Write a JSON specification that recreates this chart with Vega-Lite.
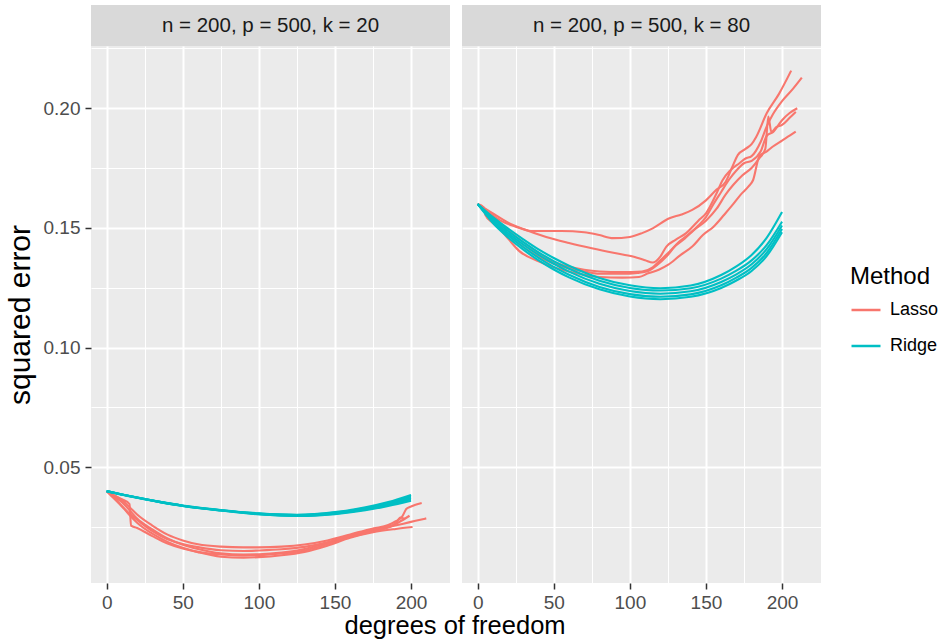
{
"$schema": "https://vega.github.io/schema/vega-lite/v6.json",
"data": {"values": [
{"p":1,"m":"Lasso","r":1,"x":0,"y":0.0400},{"p":1,"m":"Lasso","r":1,"x":5,"y":0.0370},{"p":1,"m":"Lasso","r":1,"x":10,"y":0.0338},{"p":1,"m":"Lasso","r":1,"x":15,"y":0.0300},{"p":1,"m":"Lasso","r":1,"x":20,"y":0.0268},{"p":1,"m":"Lasso","r":1,"x":30,"y":0.0222},{"p":1,"m":"Lasso","r":1,"x":40,"y":0.0188},{"p":1,"m":"Lasso","r":1,"x":50,"y":0.0163},{"p":1,"m":"Lasso","r":1,"x":60,"y":0.0145},{"p":1,"m":"Lasso","r":1,"x":75,"y":0.0126},{"p":1,"m":"Lasso","r":1,"x":90,"y":0.0122},{"p":1,"m":"Lasso","r":1,"x":100,"y":0.0124},{"p":1,"m":"Lasso","r":1,"x":115,"y":0.0132},{"p":1,"m":"Lasso","r":1,"x":130,"y":0.0146},{"p":1,"m":"Lasso","r":1,"x":145,"y":0.0172},{"p":1,"m":"Lasso","r":1,"x":160,"y":0.0205},{"p":1,"m":"Lasso","r":1,"x":175,"y":0.0228},{"p":1,"m":"Lasso","r":1,"x":190,"y":0.0242},{"p":1,"m":"Lasso","r":1,"x":201,"y":0.0250},
{"p":1,"m":"Lasso","r":2,"x":0,"y":0.0400},{"p":1,"m":"Lasso","r":2,"x":5,"y":0.0376},{"p":1,"m":"Lasso","r":2,"x":10,"y":0.0354},{"p":1,"m":"Lasso","r":2,"x":15,"y":0.0320},{"p":1,"m":"Lasso","r":2,"x":20,"y":0.0285},{"p":1,"m":"Lasso","r":2,"x":30,"y":0.0240},{"p":1,"m":"Lasso","r":2,"x":40,"y":0.0202},{"p":1,"m":"Lasso","r":2,"x":50,"y":0.0176},{"p":1,"m":"Lasso","r":2,"x":60,"y":0.0158},{"p":1,"m":"Lasso","r":2,"x":75,"y":0.0140},{"p":1,"m":"Lasso","r":2,"x":90,"y":0.0135},{"p":1,"m":"Lasso","r":2,"x":100,"y":0.0136},{"p":1,"m":"Lasso","r":2,"x":115,"y":0.0143},{"p":1,"m":"Lasso","r":2,"x":130,"y":0.0158},{"p":1,"m":"Lasso","r":2,"x":145,"y":0.0184},{"p":1,"m":"Lasso","r":2,"x":160,"y":0.0212},{"p":1,"m":"Lasso","r":2,"x":175,"y":0.0236},{"p":1,"m":"Lasso","r":2,"x":185,"y":0.0250},{"p":1,"m":"Lasso","r":2,"x":195,"y":0.0264},{"p":1,"m":"Lasso","r":2,"x":203,"y":0.0276},{"p":1,"m":"Lasso","r":2,"x":210,"y":0.0286},
{"p":1,"m":"Lasso","r":3,"x":0,"y":0.0400},{"p":1,"m":"Lasso","r":3,"x":5,"y":0.0382},{"p":1,"m":"Lasso","r":3,"x":10,"y":0.0362},{"p":1,"m":"Lasso","r":3,"x":15,"y":0.0333},{"p":1,"m":"Lasso","r":3,"x":20,"y":0.0302},{"p":1,"m":"Lasso","r":3,"x":30,"y":0.0256},{"p":1,"m":"Lasso","r":3,"x":40,"y":0.0218},{"p":1,"m":"Lasso","r":3,"x":50,"y":0.0194},{"p":1,"m":"Lasso","r":3,"x":60,"y":0.0178},{"p":1,"m":"Lasso","r":3,"x":75,"y":0.0168},{"p":1,"m":"Lasso","r":3,"x":90,"y":0.0165},{"p":1,"m":"Lasso","r":3,"x":100,"y":0.0165},{"p":1,"m":"Lasso","r":3,"x":115,"y":0.0168},{"p":1,"m":"Lasso","r":3,"x":130,"y":0.0177},{"p":1,"m":"Lasso","r":3,"x":145,"y":0.0194},{"p":1,"m":"Lasso","r":3,"x":160,"y":0.0219},{"p":1,"m":"Lasso","r":3,"x":175,"y":0.0244},{"p":1,"m":"Lasso","r":3,"x":185,"y":0.0258},{"p":1,"m":"Lasso","r":3,"x":190,"y":0.0274},{"p":1,"m":"Lasso","r":3,"x":194,"y":0.0292},{"p":1,"m":"Lasso","r":3,"x":197,"y":0.0326},{"p":1,"m":"Lasso","r":3,"x":200,"y":0.0336},{"p":1,"m":"Lasso","r":3,"x":207,"y":0.0350},
{"p":1,"m":"Lasso","r":4,"x":0,"y":0.0400},{"p":1,"m":"Lasso","r":4,"x":5,"y":0.0382},{"p":1,"m":"Lasso","r":4,"x":10,"y":0.0366},{"p":1,"m":"Lasso","r":4,"x":15,"y":0.0346},{"p":1,"m":"Lasso","r":4,"x":16,"y":0.0256},{"p":1,"m":"Lasso","r":4,"x":20,"y":0.0246},{"p":1,"m":"Lasso","r":4,"x":30,"y":0.0212},{"p":1,"m":"Lasso","r":4,"x":40,"y":0.0181},{"p":1,"m":"Lasso","r":4,"x":50,"y":0.0160},{"p":1,"m":"Lasso","r":4,"x":60,"y":0.0146},{"p":1,"m":"Lasso","r":4,"x":75,"y":0.0135},{"p":1,"m":"Lasso","r":4,"x":90,"y":0.0131},{"p":1,"m":"Lasso","r":4,"x":100,"y":0.0132},{"p":1,"m":"Lasso","r":4,"x":115,"y":0.0139},{"p":1,"m":"Lasso","r":4,"x":130,"y":0.0152},{"p":1,"m":"Lasso","r":4,"x":145,"y":0.0178},{"p":1,"m":"Lasso","r":4,"x":160,"y":0.0208},{"p":1,"m":"Lasso","r":4,"x":175,"y":0.0232},{"p":1,"m":"Lasso","r":4,"x":185,"y":0.0248},{"p":1,"m":"Lasso","r":4,"x":192,"y":0.0270},{"p":1,"m":"Lasso","r":4,"x":199,"y":0.0297},
{"p":1,"m":"Lasso","r":5,"x":0,"y":0.0400},{"p":1,"m":"Lasso","r":5,"x":5,"y":0.0368},{"p":1,"m":"Lasso","r":5,"x":10,"y":0.0336},{"p":1,"m":"Lasso","r":5,"x":15,"y":0.0306},{"p":1,"m":"Lasso","r":5,"x":20,"y":0.0280},{"p":1,"m":"Lasso","r":5,"x":30,"y":0.0233},{"p":1,"m":"Lasso","r":5,"x":40,"y":0.0199},{"p":1,"m":"Lasso","r":5,"x":50,"y":0.0179},{"p":1,"m":"Lasso","r":5,"x":60,"y":0.0166},{"p":1,"m":"Lasso","r":5,"x":75,"y":0.0153},{"p":1,"m":"Lasso","r":5,"x":90,"y":0.0150},{"p":1,"m":"Lasso","r":5,"x":100,"y":0.0152},{"p":1,"m":"Lasso","r":5,"x":115,"y":0.0157},{"p":1,"m":"Lasso","r":5,"x":130,"y":0.0167},{"p":1,"m":"Lasso","r":5,"x":145,"y":0.0186},{"p":1,"m":"Lasso","r":5,"x":160,"y":0.0214},{"p":1,"m":"Lasso","r":5,"x":175,"y":0.0240},{"p":1,"m":"Lasso","r":5,"x":185,"y":0.0252},{"p":1,"m":"Lasso","r":5,"x":190,"y":0.0266},{"p":1,"m":"Lasso","r":5,"x":193,"y":0.0290},{"p":1,"m":"Lasso","r":5,"x":196,"y":0.0284},
{"p":1,"m":"Ridge","r":1,"x":0,"y":0.0400},{"p":1,"m":"Ridge","r":1,"x":10,"y":0.0386},{"p":1,"m":"Ridge","r":1,"x":20,"y":0.0373},{"p":1,"m":"Ridge","r":1,"x":35,"y":0.0355},{"p":1,"m":"Ridge","r":1,"x":50,"y":0.0340},{"p":1,"m":"Ridge","r":1,"x":75,"y":0.0321},{"p":1,"m":"Ridge","r":1,"x":100,"y":0.0307},{"p":1,"m":"Ridge","r":1,"x":125,"y":0.0301},{"p":1,"m":"Ridge","r":1,"x":150,"y":0.0312},{"p":1,"m":"Ridge","r":1,"x":170,"y":0.0332},{"p":1,"m":"Ridge","r":1,"x":185,"y":0.0354},{"p":1,"m":"Ridge","r":1,"x":200,"y":0.0384},
{"p":1,"m":"Ridge","r":2,"x":0,"y":0.0400},{"p":1,"m":"Ridge","r":2,"x":10,"y":0.0386},{"p":1,"m":"Ridge","r":2,"x":20,"y":0.0373},{"p":1,"m":"Ridge","r":2,"x":35,"y":0.0355},{"p":1,"m":"Ridge","r":2,"x":50,"y":0.0339},{"p":1,"m":"Ridge","r":2,"x":75,"y":0.0320},{"p":1,"m":"Ridge","r":2,"x":100,"y":0.0306},{"p":1,"m":"Ridge","r":2,"x":125,"y":0.0300},{"p":1,"m":"Ridge","r":2,"x":150,"y":0.0310},{"p":1,"m":"Ridge","r":2,"x":170,"y":0.0329},{"p":1,"m":"Ridge","r":2,"x":185,"y":0.0350},{"p":1,"m":"Ridge","r":2,"x":200,"y":0.0378},
{"p":1,"m":"Ridge","r":3,"x":0,"y":0.0400},{"p":1,"m":"Ridge","r":3,"x":10,"y":0.0386},{"p":1,"m":"Ridge","r":3,"x":20,"y":0.0373},{"p":1,"m":"Ridge","r":3,"x":35,"y":0.0355},{"p":1,"m":"Ridge","r":3,"x":50,"y":0.0339},{"p":1,"m":"Ridge","r":3,"x":75,"y":0.0320},{"p":1,"m":"Ridge","r":3,"x":100,"y":0.0305},{"p":1,"m":"Ridge","r":3,"x":125,"y":0.0298},{"p":1,"m":"Ridge","r":3,"x":150,"y":0.0308},{"p":1,"m":"Ridge","r":3,"x":170,"y":0.0326},{"p":1,"m":"Ridge","r":3,"x":185,"y":0.0346},{"p":1,"m":"Ridge","r":3,"x":200,"y":0.0372},
{"p":1,"m":"Ridge","r":4,"x":0,"y":0.0400},{"p":1,"m":"Ridge","r":4,"x":10,"y":0.0386},{"p":1,"m":"Ridge","r":4,"x":20,"y":0.0372},{"p":1,"m":"Ridge","r":4,"x":35,"y":0.0354},{"p":1,"m":"Ridge","r":4,"x":50,"y":0.0338},{"p":1,"m":"Ridge","r":4,"x":75,"y":0.0319},{"p":1,"m":"Ridge","r":4,"x":100,"y":0.0304},{"p":1,"m":"Ridge","r":4,"x":125,"y":0.0297},{"p":1,"m":"Ridge","r":4,"x":150,"y":0.0306},{"p":1,"m":"Ridge","r":4,"x":170,"y":0.0323},{"p":1,"m":"Ridge","r":4,"x":185,"y":0.0342},{"p":1,"m":"Ridge","r":4,"x":200,"y":0.0366},
{"p":1,"m":"Ridge","r":5,"x":0,"y":0.0400},{"p":1,"m":"Ridge","r":5,"x":10,"y":0.0385},{"p":1,"m":"Ridge","r":5,"x":20,"y":0.0372},{"p":1,"m":"Ridge","r":5,"x":35,"y":0.0354},{"p":1,"m":"Ridge","r":5,"x":50,"y":0.0338},{"p":1,"m":"Ridge","r":5,"x":75,"y":0.0319},{"p":1,"m":"Ridge","r":5,"x":100,"y":0.0303},{"p":1,"m":"Ridge","r":5,"x":125,"y":0.0296},{"p":1,"m":"Ridge","r":5,"x":150,"y":0.0304},{"p":1,"m":"Ridge","r":5,"x":170,"y":0.0320},{"p":1,"m":"Ridge","r":5,"x":185,"y":0.0338},{"p":1,"m":"Ridge","r":5,"x":200,"y":0.0360},
{"p":2,"m":"Lasso","r":1,"x":0,"y":0.1600},{"p":2,"m":"Lasso","r":1,"x":8,"y":0.1560},{"p":2,"m":"Lasso","r":1,"x":15,"y":0.1530},{"p":2,"m":"Lasso","r":1,"x":25,"y":0.1505},{"p":2,"m":"Lasso","r":1,"x":35,"y":0.1487},{"p":2,"m":"Lasso","r":1,"x":55,"y":0.1487},{"p":2,"m":"Lasso","r":1,"x":70,"y":0.1482},{"p":2,"m":"Lasso","r":1,"x":80,"y":0.1470},{"p":2,"m":"Lasso","r":1,"x":89,"y":0.1457},{"p":2,"m":"Lasso","r":1,"x":100,"y":0.1462},{"p":2,"m":"Lasso","r":1,"x":108,"y":0.1478},{"p":2,"m":"Lasso","r":1,"x":115,"y":0.1498},{"p":2,"m":"Lasso","r":1,"x":126,"y":0.1540},{"p":2,"m":"Lasso","r":1,"x":134,"y":0.1556},{"p":2,"m":"Lasso","r":1,"x":141,"y":0.1575},{"p":2,"m":"Lasso","r":1,"x":150,"y":0.1615},{"p":2,"m":"Lasso","r":1,"x":157,"y":0.1660},{"p":2,"m":"Lasso","r":1,"x":163,"y":0.1693},{"p":2,"m":"Lasso","r":1,"x":167,"y":0.1750},{"p":2,"m":"Lasso","r":1,"x":171,"y":0.1805},{"p":2,"m":"Lasso","r":1,"x":176,"y":0.1830},{"p":2,"m":"Lasso","r":1,"x":180,"y":0.1850},{"p":2,"m":"Lasso","r":1,"x":183,"y":0.1880},{"p":2,"m":"Lasso","r":1,"x":190,"y":0.1980},{"p":2,"m":"Lasso","r":1,"x":198,"y":0.2060},{"p":2,"m":"Lasso","r":1,"x":206,"y":0.2157},
{"p":2,"m":"Lasso","r":2,"x":0,"y":0.1600},{"p":2,"m":"Lasso","r":2,"x":10,"y":0.1560},{"p":2,"m":"Lasso","r":2,"x":20,"y":0.1522},{"p":2,"m":"Lasso","r":2,"x":30,"y":0.1495},{"p":2,"m":"Lasso","r":2,"x":45,"y":0.1462},{"p":2,"m":"Lasso","r":2,"x":60,"y":0.1437},{"p":2,"m":"Lasso","r":2,"x":75,"y":0.1415},{"p":2,"m":"Lasso","r":2,"x":90,"y":0.1395},{"p":2,"m":"Lasso","r":2,"x":102,"y":0.1380},{"p":2,"m":"Lasso","r":2,"x":110,"y":0.1365},{"p":2,"m":"Lasso","r":2,"x":115,"y":0.1355},{"p":2,"m":"Lasso","r":2,"x":120,"y":0.1380},{"p":2,"m":"Lasso","r":2,"x":124,"y":0.1422},{"p":2,"m":"Lasso","r":2,"x":130,"y":0.1450},{"p":2,"m":"Lasso","r":2,"x":137,"y":0.1478},{"p":2,"m":"Lasso","r":2,"x":145,"y":0.1530},{"p":2,"m":"Lasso","r":2,"x":150,"y":0.1561},{"p":2,"m":"Lasso","r":2,"x":157,"y":0.1645},{"p":2,"m":"Lasso","r":2,"x":161,"y":0.1700},{"p":2,"m":"Lasso","r":2,"x":166,"y":0.1740},{"p":2,"m":"Lasso","r":2,"x":172,"y":0.1770},{"p":2,"m":"Lasso","r":2,"x":176,"y":0.1790},{"p":2,"m":"Lasso","r":2,"x":180,"y":0.1800},{"p":2,"m":"Lasso","r":2,"x":186,"y":0.1860},{"p":2,"m":"Lasso","r":2,"x":190,"y":0.1925},{"p":2,"m":"Lasso","r":2,"x":194,"y":0.1975},{"p":2,"m":"Lasso","r":2,"x":200,"y":0.2030},{"p":2,"m":"Lasso","r":2,"x":207,"y":0.2080},{"p":2,"m":"Lasso","r":2,"x":213,"y":0.2128},
{"p":2,"m":"Lasso","r":3,"x":0,"y":0.1600},{"p":2,"m":"Lasso","r":3,"x":5,"y":0.1565},{"p":2,"m":"Lasso","r":3,"x":10,"y":0.1530},{"p":2,"m":"Lasso","r":3,"x":20,"y":0.1455},{"p":2,"m":"Lasso","r":3,"x":27,"y":0.1405},{"p":2,"m":"Lasso","r":3,"x":40,"y":0.1360},{"p":2,"m":"Lasso","r":3,"x":50,"y":0.1335},{"p":2,"m":"Lasso","r":3,"x":65,"y":0.1310},{"p":2,"m":"Lasso","r":3,"x":80,"y":0.1295},{"p":2,"m":"Lasso","r":3,"x":95,"y":0.1292},{"p":2,"m":"Lasso","r":3,"x":106,"y":0.1295},{"p":2,"m":"Lasso","r":3,"x":112,"y":0.1310},{"p":2,"m":"Lasso","r":3,"x":119,"y":0.1325},{"p":2,"m":"Lasso","r":3,"x":125,"y":0.1345},{"p":2,"m":"Lasso","r":3,"x":133,"y":0.1385},{"p":2,"m":"Lasso","r":3,"x":141,"y":0.1422},{"p":2,"m":"Lasso","r":3,"x":148,"y":0.1470},{"p":2,"m":"Lasso","r":3,"x":155,"y":0.1505},{"p":2,"m":"Lasso","r":3,"x":162,"y":0.1555},{"p":2,"m":"Lasso","r":3,"x":168,"y":0.1600},{"p":2,"m":"Lasso","r":3,"x":173,"y":0.1640},{"p":2,"m":"Lasso","r":3,"x":178,"y":0.1673},{"p":2,"m":"Lasso","r":3,"x":181,"y":0.1700},{"p":2,"m":"Lasso","r":3,"x":185,"y":0.1798},{"p":2,"m":"Lasso","r":3,"x":190,"y":0.1820},{"p":2,"m":"Lasso","r":3,"x":194,"y":0.1840},{"p":2,"m":"Lasso","r":3,"x":200,"y":0.1865},{"p":2,"m":"Lasso","r":3,"x":205,"y":0.1885},{"p":2,"m":"Lasso","r":3,"x":209,"y":0.1902},
{"p":2,"m":"Lasso","r":4,"x":0,"y":0.1600},{"p":2,"m":"Lasso","r":4,"x":5,"y":0.1575},{"p":2,"m":"Lasso","r":4,"x":10,"y":0.1545},{"p":2,"m":"Lasso","r":4,"x":20,"y":0.1490},{"p":2,"m":"Lasso","r":4,"x":30,"y":0.1440},{"p":2,"m":"Lasso","r":4,"x":40,"y":0.1395},{"p":2,"m":"Lasso","r":4,"x":50,"y":0.1358},{"p":2,"m":"Lasso","r":4,"x":60,"y":0.1338},{"p":2,"m":"Lasso","r":4,"x":70,"y":0.1325},{"p":2,"m":"Lasso","r":4,"x":80,"y":0.1318},{"p":2,"m":"Lasso","r":4,"x":95,"y":0.1315},{"p":2,"m":"Lasso","r":4,"x":108,"y":0.1318},{"p":2,"m":"Lasso","r":4,"x":115,"y":0.1335},{"p":2,"m":"Lasso","r":4,"x":120,"y":0.1365},{"p":2,"m":"Lasso","r":4,"x":126,"y":0.1400},{"p":2,"m":"Lasso","r":4,"x":132,"y":0.1440},{"p":2,"m":"Lasso","r":4,"x":138,"y":0.1470},{"p":2,"m":"Lasso","r":4,"x":145,"y":0.1510},{"p":2,"m":"Lasso","r":4,"x":150,"y":0.1545},{"p":2,"m":"Lasso","r":4,"x":155,"y":0.1600},{"p":2,"m":"Lasso","r":4,"x":160,"y":0.1650},{"p":2,"m":"Lasso","r":4,"x":165,"y":0.1700},{"p":2,"m":"Lasso","r":4,"x":170,"y":0.1740},{"p":2,"m":"Lasso","r":4,"x":175,"y":0.1770},{"p":2,"m":"Lasso","r":4,"x":180,"y":0.1780},{"p":2,"m":"Lasso","r":4,"x":186,"y":0.1820},{"p":2,"m":"Lasso","r":4,"x":190,"y":0.1885},{"p":2,"m":"Lasso","r":4,"x":194,"y":0.1900},{"p":2,"m":"Lasso","r":4,"x":200,"y":0.1950},{"p":2,"m":"Lasso","r":4,"x":205,"y":0.1980},{"p":2,"m":"Lasso","r":4,"x":210,"y":0.2000},
{"p":2,"m":"Lasso","r":5,"x":0,"y":0.1600},{"p":2,"m":"Lasso","r":5,"x":4,"y":0.1585},{"p":2,"m":"Lasso","r":5,"x":5,"y":0.1555},{"p":2,"m":"Lasso","r":5,"x":10,"y":0.1520},{"p":2,"m":"Lasso","r":5,"x":20,"y":0.1470},{"p":2,"m":"Lasso","r":5,"x":30,"y":0.1420},{"p":2,"m":"Lasso","r":5,"x":40,"y":0.1380},{"p":2,"m":"Lasso","r":5,"x":50,"y":0.1350},{"p":2,"m":"Lasso","r":5,"x":60,"y":0.1330},{"p":2,"m":"Lasso","r":5,"x":70,"y":0.1318},{"p":2,"m":"Lasso","r":5,"x":80,"y":0.1308},{"p":2,"m":"Lasso","r":5,"x":95,"y":0.1308},{"p":2,"m":"Lasso","r":5,"x":105,"y":0.1312},{"p":2,"m":"Lasso","r":5,"x":112,"y":0.1320},{"p":2,"m":"Lasso","r":5,"x":118,"y":0.1345},{"p":2,"m":"Lasso","r":5,"x":124,"y":0.1380},{"p":2,"m":"Lasso","r":5,"x":130,"y":0.1425},{"p":2,"m":"Lasso","r":5,"x":136,"y":0.1455},{"p":2,"m":"Lasso","r":5,"x":142,"y":0.1490},{"p":2,"m":"Lasso","r":5,"x":150,"y":0.1530},{"p":2,"m":"Lasso","r":5,"x":157,"y":0.1580},{"p":2,"m":"Lasso","r":5,"x":163,"y":0.1640},{"p":2,"m":"Lasso","r":5,"x":168,"y":0.1680},{"p":2,"m":"Lasso","r":5,"x":174,"y":0.1720},{"p":2,"m":"Lasso","r":5,"x":180,"y":0.1750},{"p":2,"m":"Lasso","r":5,"x":185,"y":0.1790},{"p":2,"m":"Lasso","r":5,"x":189,"y":0.1830},{"p":2,"m":"Lasso","r":5,"x":191,"y":0.1965},{"p":2,"m":"Lasso","r":5,"x":193,"y":0.1900},{"p":2,"m":"Lasso","r":5,"x":196,"y":0.1920},{"p":2,"m":"Lasso","r":5,"x":200,"y":0.1930},{"p":2,"m":"Lasso","r":5,"x":205,"y":0.1960},{"p":2,"m":"Lasso","r":5,"x":209,"y":0.1985},
{"p":2,"m":"Ridge","r":1,"x":0,"y":0.1600},{"p":2,"m":"Ridge","r":1,"x":10,"y":0.1545},{"p":2,"m":"Ridge","r":1,"x":20,"y":0.1497},{"p":2,"m":"Ridge","r":1,"x":30,"y":0.1452},{"p":2,"m":"Ridge","r":1,"x":40,"y":0.1410},{"p":2,"m":"Ridge","r":1,"x":50,"y":0.1374},{"p":2,"m":"Ridge","r":1,"x":60,"y":0.1342},{"p":2,"m":"Ridge","r":1,"x":80,"y":0.1291},{"p":2,"m":"Ridge","r":1,"x":100,"y":0.1260},{"p":2,"m":"Ridge","r":1,"x":120,"y":0.1248},{"p":2,"m":"Ridge","r":1,"x":140,"y":0.1259},{"p":2,"m":"Ridge","r":1,"x":160,"y":0.1303},{"p":2,"m":"Ridge","r":1,"x":170,"y":0.1339},{"p":2,"m":"Ridge","r":1,"x":180,"y":0.1387},{"p":2,"m":"Ridge","r":1,"x":190,"y":0.1459},{"p":2,"m":"Ridge","r":1,"x":200,"y":0.1566},
{"p":2,"m":"Ridge","r":2,"x":0,"y":0.1600},{"p":2,"m":"Ridge","r":2,"x":10,"y":0.1538},{"p":2,"m":"Ridge","r":2,"x":20,"y":0.1487},{"p":2,"m":"Ridge","r":2,"x":30,"y":0.1440},{"p":2,"m":"Ridge","r":2,"x":40,"y":0.1398},{"p":2,"m":"Ridge","r":2,"x":50,"y":0.1361},{"p":2,"m":"Ridge","r":2,"x":60,"y":0.1329},{"p":2,"m":"Ridge","r":2,"x":80,"y":0.1279},{"p":2,"m":"Ridge","r":2,"x":100,"y":0.1249},{"p":2,"m":"Ridge","r":2,"x":120,"y":0.1238},{"p":2,"m":"Ridge","r":2,"x":140,"y":0.1248},{"p":2,"m":"Ridge","r":2,"x":160,"y":0.1288},{"p":2,"m":"Ridge","r":2,"x":170,"y":0.1321},{"p":2,"m":"Ridge","r":2,"x":180,"y":0.1364},{"p":2,"m":"Ridge","r":2,"x":190,"y":0.1429},{"p":2,"m":"Ridge","r":2,"x":200,"y":0.1526},
{"p":2,"m":"Ridge","r":3,"x":0,"y":0.1600},{"p":2,"m":"Ridge","r":3,"x":10,"y":0.1532},{"p":2,"m":"Ridge","r":3,"x":20,"y":0.1478},{"p":2,"m":"Ridge","r":3,"x":30,"y":0.1430},{"p":2,"m":"Ridge","r":3,"x":40,"y":0.1387},{"p":2,"m":"Ridge","r":3,"x":50,"y":0.1350},{"p":2,"m":"Ridge","r":3,"x":60,"y":0.1317},{"p":2,"m":"Ridge","r":3,"x":80,"y":0.1266},{"p":2,"m":"Ridge","r":3,"x":100,"y":0.1236},{"p":2,"m":"Ridge","r":3,"x":120,"y":0.1225},{"p":2,"m":"Ridge","r":3,"x":140,"y":0.1235},{"p":2,"m":"Ridge","r":3,"x":160,"y":0.1274},{"p":2,"m":"Ridge","r":3,"x":170,"y":0.1306},{"p":2,"m":"Ridge","r":3,"x":180,"y":0.1348},{"p":2,"m":"Ridge","r":3,"x":190,"y":0.1412},{"p":2,"m":"Ridge","r":3,"x":200,"y":0.1510},
{"p":2,"m":"Ridge","r":4,"x":0,"y":0.1600},{"p":2,"m":"Ridge","r":4,"x":10,"y":0.1526},{"p":2,"m":"Ridge","r":4,"x":20,"y":0.1469},{"p":2,"m":"Ridge","r":4,"x":30,"y":0.1419},{"p":2,"m":"Ridge","r":4,"x":40,"y":0.1375},{"p":2,"m":"Ridge","r":4,"x":50,"y":0.1337},{"p":2,"m":"Ridge","r":4,"x":60,"y":0.1304},{"p":2,"m":"Ridge","r":4,"x":80,"y":0.1253},{"p":2,"m":"Ridge","r":4,"x":100,"y":0.1223},{"p":2,"m":"Ridge","r":4,"x":120,"y":0.1212},{"p":2,"m":"Ridge","r":4,"x":140,"y":0.1222},{"p":2,"m":"Ridge","r":4,"x":160,"y":0.1260},{"p":2,"m":"Ridge","r":4,"x":170,"y":0.1292},{"p":2,"m":"Ridge","r":4,"x":180,"y":0.1333},{"p":2,"m":"Ridge","r":4,"x":190,"y":0.1396},{"p":2,"m":"Ridge","r":4,"x":200,"y":0.1495},
{"p":2,"m":"Ridge","r":5,"x":0,"y":0.1600},{"p":2,"m":"Ridge","r":5,"x":10,"y":0.1520},{"p":2,"m":"Ridge","r":5,"x":20,"y":0.1460},{"p":2,"m":"Ridge","r":5,"x":30,"y":0.1409},{"p":2,"m":"Ridge","r":5,"x":40,"y":0.1364},{"p":2,"m":"Ridge","r":5,"x":50,"y":0.1326},{"p":2,"m":"Ridge","r":5,"x":60,"y":0.1293},{"p":2,"m":"Ridge","r":5,"x":80,"y":0.1243},{"p":2,"m":"Ridge","r":5,"x":100,"y":0.1213},{"p":2,"m":"Ridge","r":5,"x":120,"y":0.1202},{"p":2,"m":"Ridge","r":5,"x":140,"y":0.1212},{"p":2,"m":"Ridge","r":5,"x":160,"y":0.1249},{"p":2,"m":"Ridge","r":5,"x":170,"y":0.1280},{"p":2,"m":"Ridge","r":5,"x":180,"y":0.1320},{"p":2,"m":"Ridge","r":5,"x":190,"y":0.1383},{"p":2,"m":"Ridge","r":5,"x":200,"y":0.1482}
]},
"title": {"text": "degrees of freedom", "orient": "bottom", "anchor": "middle", "fontSize": 25.5, "fontWeight": "normal", "color": "black", "offset": 2, "dx": -17},
"config": {
  "font": "Liberation Sans",
  "view": {"stroke": null},
  "axis": {"domain": false, "gridColor": "white", "tickColor": "#333333", "labelColor": "#4D4D4D", "labelFontSize": 19, "titleFontSize": 30, "titleFontWeight": "normal", "titleColor": "black", "tickSize": 6, "tickWidth": 1.5, "labelFlush": false}
},
"spacing": 12,
"resolve": {"scale": {"color": "shared"}, "legend": {"color": "shared"}},
"hconcat": [
 {"spacing": 0, "bounds": "flush", "resolve": {"scale": {"color": "shared"}, "legend": {"color": "shared"}},
  "vconcat": [
   {"data": {"values": [{"t": "n = 200, p = 500, k = 20"}]}, "width": 359, "height": 41, "view": {"fill": "#D9D9D9", "stroke": null},
    "mark": {"type": "text", "fontSize": 20.5, "color": "#1A1A1A"}, "encoding": {"text": {"field": "t"}}},
   {"width": 359, "height": 537, "view": {"fill": "#EBEBEB", "stroke": null},
    "transform": [{"filter": "datum.p == 1"}],
    "mark": {"type": "line", "strokeWidth": 2.1, "interpolate": "monotone"},
    "encoding": {
      "x": {"field": "x", "type": "quantitative", "title": null, "scale": {"domain": [-10.3, 225.6], "nice": false, "zero": false},
            "axis": {"values": [0,25,50,75,100,125,150,175,200], "labelExpr": "datum.value % 50 === 0 ? datum.label : ''", "labelPadding": 4,
                     "tickOpacity": {"condition": {"test": "datum.value % 50 === 0", "value": 1}, "value": 0},
                     "gridWidth": {"condition": {"test": "datum.value % 50 === 0", "value": 2}, "value": 1}}},
      "y": {"field": "y", "type": "quantitative", "title": "squared error", "scale": {"domain": [0.0016, 0.226], "nice": false, "zero": false},
            "axis": {"values": [0.025,0.05,0.075,0.1,0.125,0.15,0.175,0.2,0.225], "labelExpr": "abs(datum.value*20 - round(datum.value*20)) < 0.001 ? format(datum.value, '.2f') : ''", "labelPadding": 5, "titlePadding": 8,
                     "tickOpacity": {"condition": {"test": "abs(datum.value*20 - round(datum.value*20)) < 0.001", "value": 1}, "value": 0},
                     "gridWidth": {"condition": {"test": "abs(datum.value*20 - round(datum.value*20)) < 0.001", "value": 2}, "value": 1}}},
      "color": {"field": "m", "type": "nominal", "scale": {"domain": ["Lasso", "Ridge"], "range": ["#F8766D", "#00BFC4"]},
                "legend": {"title": "Method", "orient": "none", "legendX": 759, "legendY": 260, "symbolType": "stroke", "symbolSize": 841, "symbolStrokeWidth": 2.5, "labelFontSize": 18, "labelColor": "black", "titleFontSize": 24, "titleFontWeight": "normal", "titleColor": "black", "rowPadding": 11, "titlePadding": 5, "labelOffset": 8, "padding": 0}},
      "detail": {"field": "r"}
    }}
  ]},
 {"spacing": 0, "bounds": "flush", "resolve": {"scale": {"color": "shared"}, "legend": {"color": "shared"}},
  "vconcat": [
   {"data": {"values": [{"t": "n = 200, p = 500, k = 80"}]}, "width": 359, "height": 41, "view": {"fill": "#D9D9D9", "stroke": null},
    "mark": {"type": "text", "fontSize": 20.5, "color": "#1A1A1A"}, "encoding": {"text": {"field": "t"}}},
   {"width": 359, "height": 537, "view": {"fill": "#EBEBEB", "stroke": null},
    "transform": [{"filter": "datum.p == 2"}],
    "mark": {"type": "line", "strokeWidth": 2.1, "interpolate": "monotone"},
    "encoding": {
      "x": {"field": "x", "type": "quantitative", "title": null, "scale": {"domain": [-10.3, 225.6], "nice": false, "zero": false},
            "axis": {"values": [0,25,50,75,100,125,150,175,200], "labelExpr": "datum.value % 50 === 0 ? datum.label : ''", "labelPadding": 4,
                     "tickOpacity": {"condition": {"test": "datum.value % 50 === 0", "value": 1}, "value": 0},
                     "gridWidth": {"condition": {"test": "datum.value % 50 === 0", "value": 2}, "value": 1}}},
      "y": {"field": "y", "type": "quantitative", "title": null, "scale": {"domain": [0.0016, 0.226], "nice": false, "zero": false},
            "axis": {"values": [0.025,0.05,0.075,0.1,0.125,0.15,0.175,0.2,0.225], "labels": false, "ticks": false,
                     "gridWidth": {"condition": {"test": "abs(datum.value*20 - round(datum.value*20)) < 0.001", "value": 2}, "value": 1}}},
      "color": {"field": "m", "type": "nominal", "scale": {"domain": ["Lasso", "Ridge"], "range": ["#F8766D", "#00BFC4"]},
                "legend": {"title": "Method", "orient": "none", "legendX": 759, "legendY": 260, "symbolType": "stroke", "symbolSize": 841, "symbolStrokeWidth": 2.5, "labelFontSize": 18, "labelColor": "black", "titleFontSize": 24, "titleFontWeight": "normal", "titleColor": "black", "rowPadding": 11, "titlePadding": 5, "labelOffset": 8, "padding": 0}},
      "detail": {"field": "r"}
    }}
  ]}
]
}
